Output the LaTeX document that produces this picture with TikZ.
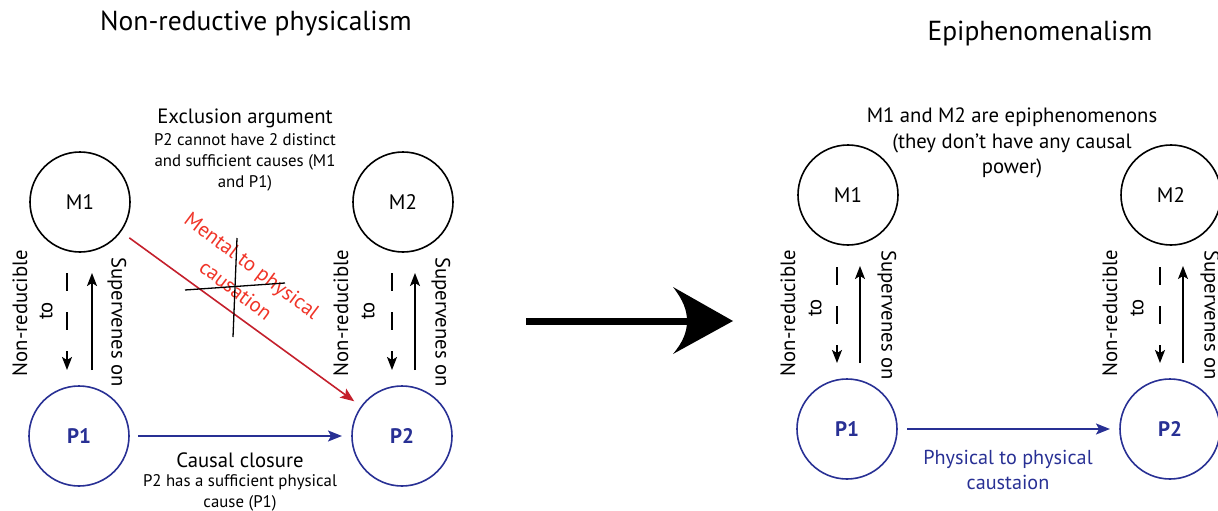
\documentclass[tikz,border=0pt]{standalone}
\usepackage{fontspec}
\setmainfont{PT Sans}
\usetikzlibrary{arrows.meta,calc}
\definecolor{myblue}{RGB}{40,48,148}
\definecolor{arrred}{RGB}{196,32,44}
\definecolor{txtred}{RGB}{240,52,40}
\tikzset{
  every node/.style={inner sep=0pt,outer sep=0pt},
  mnode/.style={circle,draw=black,line width=1.6pt,minimum size=100pt,font=\fontsize{21}{21}\selectfont},
  pnode/.style={circle,draw=myblue,line width=1.6pt,minimum size=100pt,text=myblue,font=\fontsize{21}{21}\selectfont\bfseries},
  lbl/.style={font=\fontsize{20.7}{23}\selectfont,align=center},
  small/.style={font=\fontsize{16.8}{21}\selectfont,align=center},
  dasharr/.style={line width=1.6pt,dash pattern=on 18pt off 21pt,-{Stealth[length=13pt,width=10pt,inset=3pt]}},
  solarr/.style={line width=1.6pt,-{Stealth[length=13pt,width=10pt,inset=3pt]}},
  bluearr/.style={draw=myblue,line width=1.6pt,-{Stealth[length=14pt,width=11pt,inset=3pt]}},
  redarr/.style={draw=arrred,line width=1.6pt,-{Stealth[length=14pt,width=11pt,inset=3pt]}},
}
\begin{document}
\begin{tikzpicture}[x=1pt,y=-1pt]
\useasboundingbox (0,0) rectangle (1218,511);
% titles
\node[font=\fontsize{27.5}{27.5}\selectfont] (t1) at (256,24) {Non-reductive physicalism};
\node[font=\fontsize{27.5}{27.5}\selectfont] (t2) at (1040,34) {Epiphenomenalism};

% ---------- left diagram ----------
\node[mnode] (M1) at (80,202) {M1};
\node[pnode] (P1) at (79,436) {P1};
\node[mnode] (M2) at (403,202) {M2};
\node[pnode] (P2) at (402,436) {P2};

\node[lbl] (ex) at (245,118) {Exclusion argument};
\node[small] (exs) at (245,162) {P2 cannot have 2 distinct\\and sufficient causes (M1\\and P1)};

\draw[dasharr] ($(M1.south)+(-13,21)$) -- ($(P1.north)+(-12,-16)$);
\draw[solarr] ($(P1.north)+(13,-16)$) -- ($(M1.south)+(12,21)$);
\node[lbl,rotate=90] (nr1) at (20,313) {Non-reducible};
\node[lbl,rotate=90] (to1) at (46,311) {to};
\node[lbl,rotate=-90] (sv1) at (117,322) {Supervenes on};

\draw[dasharr] ($(M2.south)+(-11,21)$) -- ($(P2.north)+(-10,-16)$);
\draw[solarr] ($(P2.north)+(13,-16)$) -- ($(M2.south)+(12,21)$);
\node[lbl,rotate=90] (nr2) at (341,313) {Non-reducible};
\node[lbl,rotate=90] (to2) at (368,311) {to};
\node[lbl,rotate=-90] (sv2) at (441,322) {Supervenes on};

\draw[redarr,shorten <=11pt,shorten >=9pt] (M1) -- (P2);
\node[lbl,text=txtred,rotate=-37] (mt) at (251,267) {Mental to physical};
\node[lbl,text=txtred,rotate=-37] (mc) at (236,290) {causation};
\draw[line width=1.3pt] (237,238) -- (233,337);
\draw[line width=1.3pt] (185,290) -- (285,283);

\draw[bluearr,shorten <=9pt,shorten >=10pt] (P1) -- (P2);
\node[lbl] (cc) at (240,460) {Causal closure};
\node[small] (ccs) at (240,493) {P2 has a sufficient physical\\cause (P1)};

% ---------- big arrow ----------
\coordinate (ba) at (526,321);
\coordinate (bb) at (690,321);
\draw[line width=7pt] (ba) -- (bb);
\fill (733,321) -- (673,287) .. controls (683,300) and (687,310) .. (687,321) .. controls (687,332) and (683,342) .. (673,354) -- cycle;

% ---------- right diagram ----------
\node[mnode] (M1r) at (848,195) {M1};
\node[pnode] (P1r) at (847,429) {P1};
\node[mnode] (M2r) at (1171,195) {M2};
\node[pnode] (P2r) at (1170,429) {P2};

\node[lbl,font=\fontsize{20.7}{25.5}\selectfont] (ep) at (1012,143) {M1 and M2 are epiphenomenons\\(they don't have any causal\\power)};

\draw[dasharr] ($(M1r.south)+(-11,22)$) -- ($(P1r.north)+(-10,-16)$);
\draw[solarr] ($(P1r.north)+(13,-16)$) -- ($(M1r.south)+(12,21)$);
\node[lbl,rotate=90] (nr3) at (788,313) {Non-reducible};
\node[lbl,rotate=90] (to3) at (815,308) {to};
\node[lbl,rotate=-90] (sv3) at (887,315) {Supervenes on};

\draw[dasharr] ($(M2r.south)+(-11,22)$) -- ($(P2r.north)+(-10,-16)$);
\draw[solarr] ($(P2r.north)+(13,-16)$) -- ($(M2r.south)+(12,21)$);
\node[lbl,rotate=90] (nr4) at (1110,313) {Non-reducible};
\node[lbl,rotate=90] (to4) at (1137,308) {to};
\node[lbl,rotate=-90] (sv4) at (1210,315) {Supervenes on};

\draw[bluearr,shorten <=10pt,shorten >=10pt] (P1r) -- (P2r);
\node[lbl,text=myblue,font=\fontsize{20.2}{25}\selectfont] (pp) at (1008,470) {Physical to physical\\caustaion};
\end{tikzpicture}
\end{document}
